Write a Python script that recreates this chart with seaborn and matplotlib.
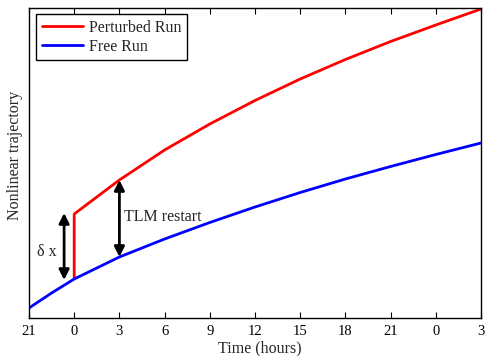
import matplotlib
matplotlib.use("Agg")
import matplotlib.pyplot as plt
import seaborn as sns
import pandas as pd

# Data (hours since 21h of day 1)
tick_hours = [0, 3, 6, 9, 12, 15, 18, 21, 24, 27, 30]
tick_labels = ["21", "0", "3", "6", "9", "12", "15", "18", "21", "0", "3"]
free_hours = [0, 1.5, 3, 6, 9, 12, 15, 18, 21, 24, 27, 30]
free_run = [1.0, 2.5, 3.9, 6.1, 7.9, 9.55, 11.1, 12.55, 13.9, 15.15, 16.35, 17.5]
pert_hours = [3, 3, 6, 9, 12, 15, 18, 21, 24, 27, 30]
pert_run = [3.9, 10.4, 13.8, 16.8, 19.4, 21.75, 23.9, 25.85, 27.65, 29.3, 30.9]

sns.set_theme(style="white")
plt.rcParams["font.family"] = ["Liberation Serif", "DejaVu Serif"]

fig = plt.figure(figsize=(4.86, 3.56), dpi=100)
ax = fig.add_axes([29 / 486, 1 - 318 / 356, 452 / 486, 310 / 356])

free_df = pd.DataFrame({"t": free_hours, "y": free_run})
pert_df = pd.DataFrame({"t": pert_hours, "y": pert_run})

sns.lineplot(data=pert_df, x="t", y="y", ax=ax, color=(1, 0, 0), lw=2.0,
             estimator=None, sort=False, label="Perturbed Run")
sns.lineplot(data=free_df, x="t", y="y", ax=ax, color=(0, 0, 1), lw=2.0,
             estimator=None, sort=False, label="Free Run")

ax.set_xlim(0, 30)
ax.set_ylim(0, 31)
ax.set_xticks(tick_hours)
ax.set_xticklabels(tick_labels)
ax.set_yticks([])
ax.tick_params(axis="x", direction="in", length=4, width=0.8, top=True,
               bottom=True, labelsize=10.5, pad=5, colors="black")
for s in ax.spines.values():
    s.set_color("black")
    s.set_linewidth(1.0)

ax.set_xlabel("Time (hours)", fontsize=11.5)
ax.set_ylabel("Nonlinear trajectory", fontsize=11.5)
ax.xaxis.set_label_coords(0.511, -0.099)
ax.xaxis.label.set_va("center")
ax.yaxis.set_label_coords(-0.031, 0.526)
ax.yaxis.label.set_va("center")

# Arrows
arrow_kw = dict(arrowstyle="<|-|>", color="black", lw=2.0, mutation_scale=15,
                shrinkA=0, shrinkB=0)
ax.annotate("", xy=(2.33, 10.5), xytext=(2.33, 3.8), arrowprops=arrow_kw)
ax.annotate("", xy=(6.0, 13.8), xytext=(6.0, 6.1), arrowprops=arrow_kw)
ax.text(1.2, 6.6, "δ x", fontsize=11.5, ha="center", va="center")
ax.text(6.3, 10.1, "TLM restart", fontsize=11.5, ha="left", va="center")

leg = ax.legend(loc="upper left", bbox_to_anchor=(0.0155, 0.9806),
                borderaxespad=0, fontsize=11.5, handlelength=2.6,
                handletextpad=0.35, labelspacing=0.2, borderpad=0.35,
                fancybox=False, framealpha=1, edgecolor="black")
leg.get_frame().set_linewidth(1.0)

fig.savefig("out.png", dpi=100)
